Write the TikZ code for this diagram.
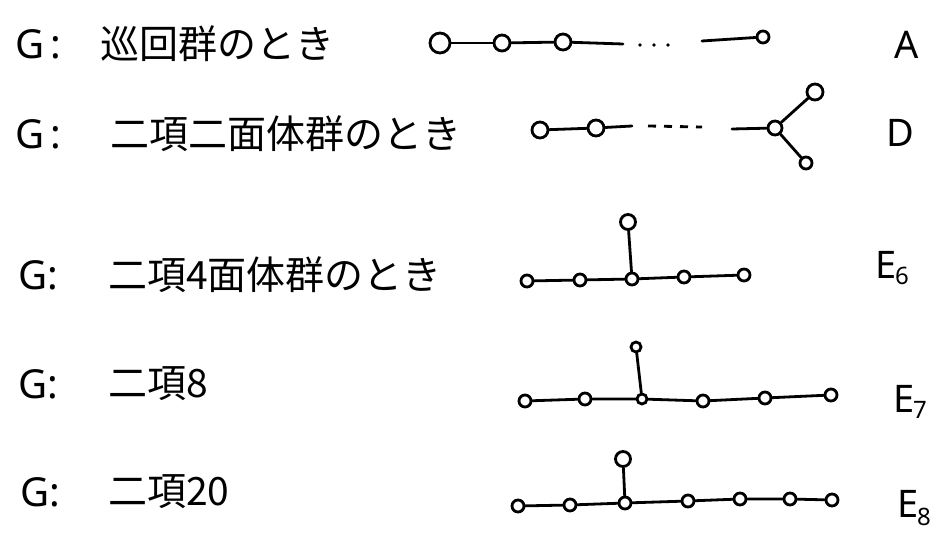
\documentclass[tikz,border=0pt]{standalone}
\usepackage{fontspec}
\setmainfont{Noto Sans}
\newfontfamily\jp{Noto Sans CJK JP}
\begin{document}
\begin{tikzpicture}[x=1pt,y=-1pt,
  dn/.style={circle, draw, line width=2.8pt, minimum size=16pt, inner sep=0pt},
  dns/.style={dn, minimum size=12pt},
  edge/.style={line width=2.8pt, line cap=round},
  dots/.style={line width=3.6pt, line cap=round, dash pattern=on 0pt off 14pt},
  dashes/.style={line width=2.8pt, dash pattern=on 8pt off 8pt},
  gtext/.style={anchor=west, inner sep=0pt, font=\fontsize{40}{42}\selectfont},
  jtext/.style={anchor=west, inner sep=0pt, font=\jp\fontsize{39}{42}\selectfont},
  lab/.style={inner sep=0pt, font=\fontsize{38}{42}\selectfont}]
\useasboundingbox (0,0) rectangle (950,540);
\fill[white] (0,0) rectangle (950,540);

% ---- left texts
\node[gtext] (g1) at (15,44) {G\,:};
\node[jtext] (t1) at (100,44) {巡回群のとき};
\node[gtext] (g2) at (15,134) {G\,:};
\node[jtext] (t2) at (110,134) {二項二面体群のとき};
\node[gtext] (g3) at (18,275) {G:};
\node[jtext] (t3) at (108,275) {二項4面体群のとき};
\node[gtext] (g4) at (18,384) {G:};
\node[jtext] (t4) at (108,384) {二項8};
\node[gtext] (g5) at (20,492) {G:};
\node[jtext] (t5) at (108,492) {二項20};

% ---- A
\node[dn, minimum size=20pt] (a1) at (440,43) {};
\node[dn] (a2) at (502,43) {};
\node[dn] (a3) at (563,42) {};
\coordinate (a3e) at (623,44);
\coordinate (ad1) at (640,45);
\coordinate (ad2) at (670,45);
\coordinate (a4s) at (702,41);
\node[dns] (a4) at (763,37) {};
\draw[edge] (a1) -- (a2);
\draw[edge] (a2) -- (a3);
\draw[edge] (a3) -- (a3e);
\draw[dots] (ad1) -- (ad2);
\draw[edge] (a4s) -- (a4);
\node[lab] (la) at (907,45) {A};

% ---- D
\node[dn] (d1) at (540,130) {};
\node[dn] (d2) at (596,128) {};
\coordinate (d2e) at (632,126);
\coordinate (dd1) at (648,126);
\coordinate (dd2) at (702,127);
\coordinate (d3s) at (732,129);
\node[dns, minimum size=14pt] (d3) at (775,128) {};
\node[dn] (d4) at (815,92) {};
\node[dns] (d5) at (806,163) {};
\draw[edge] (d1) -- (d2);
\draw[edge] (d2) -- (d2e);
\draw[dashes] (dd1) -- (dd2);
\draw[edge] (d3s) -- (d3);
\draw[edge] (d3) -- (d4);
\draw[edge] (d3) -- (d5);
\node[lab] (ld) at (900,133) {D};

% ---- E6
\node[dns] (e61) at (527,281) {};
\node[dns] (e62) at (580,280) {};
\node[dns] (e63) at (632,279) {};
\node[dns] (e64) at (684,277) {};
\node[dns] (e65) at (744,275) {};
\node[dns, minimum size=15pt] (e66) at (628,222) {};
\draw[edge] (e61) -- (e62) -- (e63) -- (e64) -- (e65);
\draw[edge] (e63) -- (e66);
\node[lab] (le6) at (892,268) {E\kern-1pt\raisebox{-6pt}{\fontsize{24}{26}\selectfont 6}};

% ---- E7
\node[dns] (e71) at (525,401) {};
\node[dns] (e72) at (585,399) {};
\node[dns, minimum size=10pt] (e73) at (642,399) {};
\node[dns] (e74) at (703,401) {};
\node[dns] (e75) at (765,398) {};
\node[dns] (e76) at (831,395) {};
\node[dns, minimum size=10pt] (e77) at (636,347) {};
\draw[edge] (e71) -- (e72) -- (e73) -- (e74) -- (e75) -- (e76);
\draw[edge] (e73) -- (e77);
\node[lab] (le7) at (910,402) {E\kern-1pt\raisebox{-6pt}{\fontsize{24}{26}\selectfont 7}};

% ---- E8
\node[dns] (e81) at (518,506) {};
\node[dns] (e82) at (570,505) {};
\node[dns] (e83) at (625,503) {};
\node[dns] (e84) at (688,501) {};
\node[dns] (e85) at (740,499) {};
\node[dns] (e86) at (790,499) {};
\node[dns] (e87) at (832,500) {};
\node[dns, minimum size=15pt] (e88) at (623,459) {};
\draw[edge] (e81) -- (e82) -- (e83) -- (e84) -- (e85) -- (e86) -- (e87);
\draw[edge] (e83) -- (e88);
\node[lab] (le8) at (914,508) {E\kern-1pt\raisebox{-8pt}{\fontsize{24}{26}\selectfont 8}};
\end{tikzpicture}
\end{document}
